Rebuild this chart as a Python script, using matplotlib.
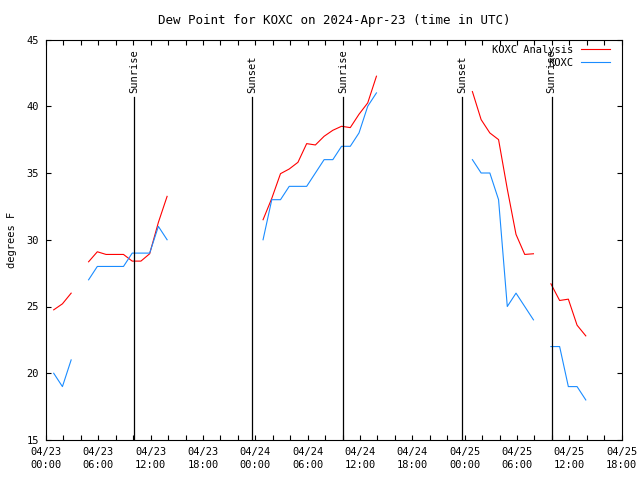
import numpy as np
import pandas as pd
import matplotlib
matplotlib.use("Agg")
import matplotlib.pyplot as plt
import matplotlib.dates as mdates

nan = np.nan

# hourly observations at :53 past the hour, 04/23 00:53 .. 04/25 13:53
obs_times = pd.date_range("2024-04-23 00:53", "2024-04-25 13:53", freq="h")

analysis = [
    # 04/23
    24.75, 25.2, 26.0, nan, 28.35, 29.1, 28.9, 28.9, 28.9, 28.4, 28.4, 28.95,
    31.3, 33.25, nan, nan, nan, nan, nan, nan, nan, nan, nan, nan,
    # 04/24
    31.5, 33.1, 34.95, 35.3, 35.8, 37.2, 37.1, 37.75, 38.2, 38.5, 38.4, 39.4,
    40.25, 42.25, nan, nan, nan, nan, nan, nan, nan, nan, nan, nan,
    # 04/25
    41.1, 39.0, 38.0, 37.5, 33.8, 30.4, 28.9, 28.95, nan, 26.7, 25.45, 25.55,
    23.6, 22.8,
]
station = [
    20, 19, 21, nan, 27, 28, 28, 28, 28, 29, 29, 29,
    31, 30, nan, nan, nan, nan, nan, nan, nan, nan, nan, nan,
    30, 33, 33, 34, 34, 34, 35, 36, 36, 37, 37, 38,
    40, 41, nan, nan, nan, nan, nan, nan, nan, nan, nan, nan,
    36, 35, 35, 33, 25, 26, 25, 24, nan, 22, 22, 19,
    19, 18,
]

sun_events = ["Sunrise", "Sunset", "Sunrise", "Sunset", "Sunrise"]
sun_times = pd.to_datetime(["2024-04-23 10:05", "2024-04-23 23:39",
                            "2024-04-24 10:04", "2024-04-24 23:40",
                            "2024-04-25 09:58"])

plt.rcParams["font.family"] = "DejaVu Sans Mono"
plt.rcParams["font.size"] = 7.5

fig = plt.figure(figsize=(6.4, 4.8), dpi=100)
ax = fig.add_axes([46 / 640, 40 / 480, 575.7 / 640, 400.5 / 480])

ax.plot(obs_times, analysis, color="#ff0000", lw=0.8, label="KOXC Analysis")
ax.plot(obs_times, station, color="#1a8cff", lw=0.8, label="KOXC")

for name, t in zip(sun_events, sun_times):
    ax.plot([t, t], [15, 40.7], color="black", lw=0.9)
    ax.text(t, 41.0, name, rotation=90, ha="center", va="bottom")

ax.set_xlim(pd.Timestamp("2024-04-23 00:00"), pd.Timestamp("2024-04-25 18:00"))
ax.set_ylim(15, 45)
ax.set_yticks(range(15, 46, 5))
ax.xaxis.set_major_locator(mdates.HourLocator(byhour=range(0, 24, 6)))
ax.xaxis.set_minor_locator(mdates.HourLocator(byhour=range(0, 24, 2)))
ax.xaxis.set_major_formatter(mdates.DateFormatter("%m/%d\n%H:%M"))
ax.tick_params(which="both", direction="in", top=True, right=True,
               length=3.5, width=0.8, pad=5)
for lbl in ax.get_xticklabels():
    lbl.set_linespacing(1.35)
for s in ax.spines.values():
    s.set_linewidth(0.8)

ax.set_ylabel("degrees F", labelpad=7)
ax.set_title("Dew Point for KOXC on 2024-Apr-23 (time in UTC)", pad=11)

ax.legend(loc="upper right", bbox_to_anchor=(0.99, 1.003), frameon=False,
          markerfirst=False, handlelength=2.8, handletextpad=0.7,
          labelspacing=0.3, borderaxespad=0.2)

fig.savefig("out.png", dpi=100)
